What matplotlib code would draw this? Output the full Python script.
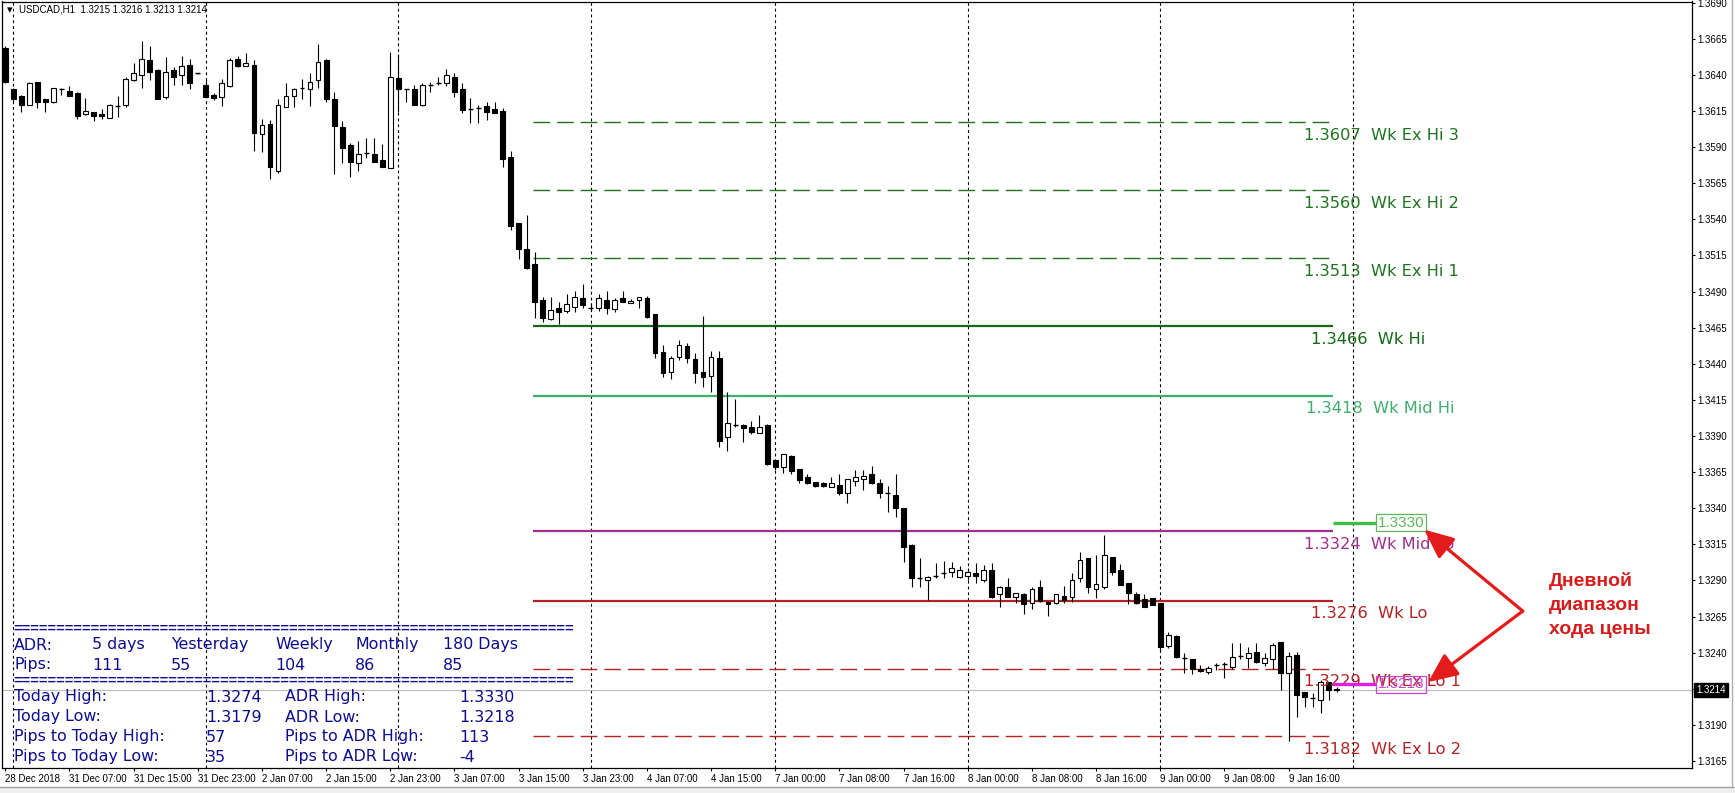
import numpy as np
import matplotlib.pyplot as plt
from matplotlib.patches import Rectangle

plt.rcParams['font.family'] = ['Liberation Sans', 'DejaVu Sans']

# ---- H1 candles, bar 0 = 28 Dec 23:00, last bar = 9 Jan 22:00 ----
OPEN = [
    1.36583, 1.36301, 1.36253, 1.36193, 1.36350, 1.36232, 1.36209, 1.36302, 1.36288, 1.36274,
    1.36126, 1.36140, 1.36128, 1.36103, 1.36180, 1.36188, 1.36361, 1.36396, 1.36502, 1.36433,
    1.36244, 1.36433, 1.36396, 1.36468, 1.36411, 1.36329, 1.36258, 1.36248, 1.36324, 1.36507,
    1.36458, 1.36468, 1.35988, 1.36057, 1.35736, 1.36179, 1.36251, 1.36305, 1.36299, 1.36361,
    1.36502, 1.36230, 1.36037, 1.35915, 1.35788, 1.35855, 1.35850, 1.35811, 1.35758, 1.36376,
    1.36303, 1.36300, 1.36189, 1.36326, 1.36344, 1.36341, 1.36387, 1.36300, 1.36167, 1.36168,
    1.36184, 1.36161, 1.36150, 1.35829, 1.35372, 1.35195, 1.35091, 1.34842, 1.34708, 1.34786,
    1.34768, 1.34796, 1.34853, 1.34790, 1.34789, 1.34842, 1.34782, 1.34853, 1.34819, 1.34839,
    1.34853, 1.34743, 1.34480, 1.34346, 1.34449, 1.34523, 1.34431, 1.34341, 1.34318, 1.34438,
    1.33891, 1.33976, 1.33977, 1.33960, 1.33919, 1.33977, 1.33734, 1.33688, 1.33762, 1.33670,
    1.33619, 1.33580, 1.33577, 1.33550, 1.33561, 1.33508, 1.33591, 1.33599, 1.33635, 1.33573,
    1.33503, 1.33492, 1.33399, 1.33145, 1.32919, 1.32903, 1.32930, 1.32948, 1.32961, 1.32926,
    1.32931, 1.32954, 1.32903, 1.32972, 1.32806, 1.32852, 1.32783, 1.32806, 1.32742, 1.32852,
    1.32751, 1.32742, 1.32792, 1.32783, 1.32915, 1.33053, 1.32838, 1.32857, 1.33060, 1.32972,
    1.32880, 1.32804, 1.32769, 1.32776, 1.32742, 1.32449, 1.32518, 1.32361, 1.32354, 1.32285,
    1.32268, 1.32314, 1.32320, 1.32303, 1.32378, 1.32361, 1.32407, 1.32331, 1.32354, 1.32472,
    1.32257, 1.32384, 1.32125, 1.32084, 1.32072, 1.32195, 1.32150,
]
HIGH = [
    1.36600, 1.36310, 1.36260, 1.36352, 1.36352, 1.36235, 1.36310, 1.36306, 1.36322, 1.36280,
    1.36237, 1.36142, 1.36161, 1.36200, 1.36253, 1.36387, 1.36479, 1.36634, 1.36599, 1.36440,
    1.36521, 1.36456, 1.36530, 1.36507, 1.36415, 1.36364, 1.36276, 1.36368, 1.36518, 1.36530,
    1.36553, 1.36502, 1.36094, 1.36087, 1.36232, 1.36345, 1.36306, 1.36368, 1.36414, 1.36613,
    1.36510, 1.36284, 1.36081, 1.35926, 1.35944, 1.35961, 1.35961, 1.35922, 1.36555, 1.36545,
    1.36304, 1.36330, 1.36341, 1.36348, 1.36387, 1.36440, 1.36410, 1.36341, 1.36237, 1.36191,
    1.36210, 1.36210, 1.36168, 1.35873, 1.35372, 1.35430, 1.35176, 1.34865, 1.34865, 1.34830,
    1.34885, 1.34906, 1.34953, 1.34819, 1.34885, 1.34906, 1.34853, 1.34902, 1.34846, 1.34860,
    1.34870, 1.34745, 1.34530, 1.34454, 1.34565, 1.34546, 1.34472, 1.34730, 1.34491, 1.34491,
    1.34203, 1.34156, 1.33980, 1.34004, 1.34046, 1.33980, 1.33736, 1.33775, 1.33765, 1.33672,
    1.33637, 1.33582, 1.33584, 1.33614, 1.33637, 1.33605, 1.33665, 1.33665, 1.33693, 1.33600,
    1.33554, 1.33637, 1.33400, 1.33150, 1.33053, 1.32928, 1.33019, 1.33035, 1.33030, 1.33000,
    1.32984, 1.33019, 1.33010, 1.33019, 1.32860, 1.32915, 1.32811, 1.32815, 1.32852, 1.32903,
    1.32753, 1.32806, 1.32862, 1.32949, 1.33099, 1.33055, 1.33076, 1.33214, 1.33062, 1.33014,
    1.32880, 1.32822, 1.32806, 1.32781, 1.32745, 1.32541, 1.32520, 1.32400, 1.32356, 1.32315,
    1.32308, 1.32326, 1.32338, 1.32465, 1.32469, 1.32442, 1.32469, 1.32395, 1.32469, 1.32475,
    1.32407, 1.32402, 1.32130, 1.32119, 1.32211, 1.32200, 1.32160,
]
LOW = [
    1.36340, 1.36220, 1.36145, 1.36190, 1.36168, 1.36145, 1.36205, 1.36260, 1.36250, 1.36092,
    1.36120, 1.36080, 1.36094, 1.36100, 1.36110, 1.36180, 1.36360, 1.36306, 1.36364, 1.36230,
    1.36232, 1.36329, 1.36329, 1.36299, 1.36408, 1.36244, 1.36225, 1.36186, 1.36318, 1.36451,
    1.36458, 1.35875, 1.35868, 1.35676, 1.35718, 1.36179, 1.36175, 1.36232, 1.36184, 1.36306,
    1.36209, 1.35714, 1.35788, 1.35695, 1.35737, 1.35822, 1.35799, 1.35765, 1.35753, 1.36145,
    1.36214, 1.36191, 1.36185, 1.36284, 1.36330, 1.36325, 1.36249, 1.36138, 1.36069, 1.36069,
    1.36088, 1.36138, 1.35765, 1.35326, 1.35123, 1.35055, 1.34719, 1.34692, 1.34703, 1.34676,
    1.34749, 1.34761, 1.34789, 1.34770, 1.34768, 1.34747, 1.34761, 1.34830, 1.34819, 1.34789,
    1.34719, 1.34438, 1.34311, 1.34295, 1.34426, 1.34403, 1.34269, 1.34242, 1.34207, 1.33822,
    1.33799, 1.33965, 1.33861, 1.33912, 1.33919, 1.33700, 1.33665, 1.33647, 1.33637, 1.33573,
    1.33570, 1.33550, 1.33545, 1.33550, 1.33488, 1.33434, 1.33554, 1.33527, 1.33570, 1.33469,
    1.33377, 1.33342, 1.33030, 1.32852, 1.32852, 1.32765, 1.32915, 1.32915, 1.32926, 1.32915,
    1.32903, 1.32880, 1.32890, 1.32780, 1.32719, 1.32788, 1.32746, 1.32668, 1.32700, 1.32753,
    1.32656, 1.32740, 1.32742, 1.32749, 1.32892, 1.32811, 1.32781, 1.32838, 1.32938, 1.32868,
    1.32737, 1.32737, 1.32714, 1.32730, 1.32407, 1.32430, 1.32361, 1.32262, 1.32252, 1.32266,
    1.32252, 1.32280, 1.32223, 1.32285, 1.32354, 1.32292, 1.32331, 1.32308, 1.32285, 1.32142,
    1.31790, 1.31957, 1.32026, 1.32026, 1.31980, 1.32072, 1.32130,
]
CLOSE = [
    1.36352, 1.36232, 1.36188, 1.36345, 1.36214, 1.36214, 1.36306, 1.36300, 1.36255, 1.36115,
    1.36151, 1.36117, 1.36117, 1.36191, 1.36183, 1.36368, 1.36410, 1.36507, 1.36417, 1.36230,
    1.36417, 1.36387, 1.36461, 1.36345, 1.36413, 1.36248, 1.36237, 1.36341, 1.36500, 1.36463,
    1.36479, 1.35999, 1.36050, 1.35759, 1.36191, 1.36255, 1.36301, 1.36307, 1.36350, 1.36486,
    1.36232, 1.36047, 1.35896, 1.35799, 1.35850, 1.35858, 1.35799, 1.35765, 1.36387, 1.36300,
    1.36301, 1.36191, 1.36330, 1.36328, 1.36346, 1.36399, 1.36284, 1.36157, 1.36165, 1.36170,
    1.36145, 1.36138, 1.35820, 1.35356, 1.35195, 1.35061, 1.34830, 1.34719, 1.34773, 1.34761,
    1.34812, 1.34865, 1.34807, 1.34788, 1.34853, 1.34789, 1.34842, 1.34830, 1.34832, 1.34860,
    1.34726, 1.34473, 1.34339, 1.34438, 1.34530, 1.34438, 1.34334, 1.34311, 1.34449, 1.33868,
    1.33988, 1.33978, 1.33954, 1.33930, 1.33960, 1.33706, 1.33684, 1.33773, 1.33660, 1.33596,
    1.33573, 1.33557, 1.33557, 1.33573, 1.33504, 1.33599, 1.33614, 1.33623, 1.33573, 1.33508,
    1.33505, 1.33400, 1.33129, 1.32915, 1.32921, 1.32926, 1.32932, 1.32950, 1.32984, 1.32972,
    1.32961, 1.32931, 1.32972, 1.32788, 1.32857, 1.32788, 1.32811, 1.32735, 1.32841, 1.32760,
    1.32737, 1.32804, 1.32765, 1.32903, 1.33041, 1.32852, 1.32873, 1.33076, 1.32961, 1.32868,
    1.32811, 1.32746, 1.32719, 1.32730, 1.32442, 1.32522, 1.32372, 1.32363, 1.32285, 1.32271,
    1.32292, 1.32316, 1.32322, 1.32372, 1.32380, 1.32400, 1.32338, 1.32361, 1.32453, 1.32257,
    1.32377, 1.32107, 1.32091, 1.32086, 1.32199, 1.32142, 1.32140,
]

TIME_LABELS = [
    '28 Dec 2018', '31 Dec 07:00', '31 Dec 15:00', '31 Dec 23:00', '2 Jan 07:00',
    '2 Jan 15:00', '2 Jan 23:00', '3 Jan 07:00', '3 Jan 15:00', '3 Jan 23:00',
    '4 Jan 07:00', '4 Jan 15:00', '7 Jan 00:00', '7 Jan 08:00', '7 Jan 16:00',
    '8 Jan 00:00', '8 Jan 08:00', '8 Jan 16:00', '9 Jan 00:00', '9 Jan 08:00', '9 Jan 16:00',
]
DAY_STARTS = [1, 25, 49, 73, 96, 120, 144, 168]

LEVEL_PRICES = [1.3607, 1.3560, 1.3513, 1.3466, 1.3418, 1.3324, 1.3276, 1.3229, 1.3182]
LEVEL_NAMES = ['Wk Ex Hi 3', 'Wk Ex Hi 2', 'Wk Ex Hi 1', 'Wk Hi', 'Wk Mid Hi',
               'Wk Mid Lo', 'Wk Lo', 'Wk Ex Lo 1', 'Wk Ex Lo 2']
LEVEL_COLORS = ['#1f741f', '#1f741f', '#1f741f', '#146914', '#3fae6e',
                '#a0308f', '#b42323', '#b42323', '#b42323']
LEVEL_DASHED = [True, True, True, False, False, False, False, True, True]

ADR_HEAD = ['ADR:', '5 days', 'Yesterday', 'Weekly', 'Monthly', '180 Days']
ADR_PIPS = ['Pips:', '111', '55', '104', '86', '85']
INFO_ROWS = [
    ['Today High:', '1.3274', 'ADR High:', '1.3330'],
    ['Today Low:', '1.3179', 'ADR Low:', '1.3218'],
    ['Pips to Today High:', '57', 'Pips to ADR High:', '113'],
    ['Pips to Today Low:', '35', 'Pips to ADR Low:', '-4'],
]
ADR_HIGH = 1.3330
ADR_LOW = 1.3218
BID = 1.3214
TITLE = 'USDCAD,H1  1.3215 1.3216 1.3213 1.3214'
NOTE = ['Дневной', 'диапазон', 'хода цены']

W, H = 1735, 793
fig = plt.figure(figsize=(W / 100, H / 100), dpi=100)
fig.patch.set_facecolor('white')


def fx(x):
    return x / W


def fy(y):
    return 1 - y / H


# bar i sits at 5.3 + 8.02*i px, price p at 38.7 + (1.3665-p)*14446 px
ax = fig.add_axes([fx(2), fy(768), fx(1692) - fx(2), fy(1.5) - fy(768)])
ax.set_xlim(-0.41, 210.3)
ax.set_ylim(1.316016, 1.369075)
ax.set_facecolor('white')

# candles
o, h, l, c = (np.array(a) for a in (OPEN, HIGH, LOW, CLOSE))
xs = np.arange(len(o))
ax.vlines(xs, l, h, color='black', lw=0.8, zorder=3)
bw = 0.6
for i in xs:
    lo, hi = min(o[i], c[i]), max(o[i], c[i])
    if hi - lo < 0.00006:
        ax.hlines((lo + hi) / 2, i - bw / 2, i + bw / 2, color='black', lw=1.0, zorder=4)
    else:
        face = 'white' if c[i] > o[i] else 'black'
        ax.add_patch(Rectangle((i - bw / 2, lo), bw, hi - lo, facecolor=face,
                               edgecolor='black', lw=0.8, zorder=4))

# period separators and bid line
for d in DAY_STARTS:
    ax.axvline(d, color='black', lw=0.8, ls=(0, (2.6, 2.6)), zorder=1)
ax.axhline(BID, color='#c0c0c0', lw=0.9, zorder=1)

# weekly levels
LEVEL_START, LEVEL_END = 65.8, 165.6
label_shift = [0, 0, 0, 0.95, 0.3, 0, 0.95, 0, 0]
for p, name, col, dashed, sh in zip(LEVEL_PRICES, LEVEL_NAMES, LEVEL_COLORS,
                                    LEVEL_DASHED, label_shift):
    if dashed:
        ax.hlines(p, LEVEL_START, LEVEL_END, colors=col, lw=1.0,
                  linestyles=[(0, (12, 5))], zorder=2)
    else:
        ax.hlines(p, LEVEL_START, LEVEL_END, colors=col, lw=1.6, zorder=2)
    ax.text(161.9 + sh, p - 0.0009, f'{p:.4f}  {name}', color=col, fontsize=11.7,
            family='DejaVu Sans', va='center', ha='left', zorder=6)

# ADR high / low markers
for p, col, tcol in [(ADR_HIGH, '#3fbf3f', '#5cb85c'), (ADR_LOW, '#e020e0', '#cc44cc')]:
    ax.hlines(p, 165.5, 170.9, colors=col, lw=2.4, zorder=6)
    ax.text(171.15, p, f'{p:.4f}', color=tcol, fontsize=11, family='Liberation Sans',
            va='center', ha='left', zorder=7,
            bbox=dict(boxstyle='square,pad=0.12', fc='none', ec=tcol, lw=0.9))

# red arrows and note
vx, vy = 189.2, 1.32688
for tx, ty in [(176.9, 1.33252), (177.4, 1.32196)]:
    ax.annotate('', xy=(tx, ty), xytext=(vx, vy), annotation_clip=False, zorder=8,
                arrowprops=dict(arrowstyle='-|>,head_length=0.9,head_width=0.4',
                                color='#e41b1b', lw=2.3, shrinkA=0, shrinkB=0,
                                mutation_scale=20))
for k, line in enumerate(NOTE):
    ax.text(192.5, 1.32896 - k * 0.00168, line, color='#d71a1a', fontsize=14,
            fontweight='bold', family='Liberation Sans', va='center', ha='left', zorder=8)

# axes styling
ax.yaxis.tick_right()
yt = [round(1.3165 + 0.0025 * k, 4) for k in range(22)]
ax.set_yticks(yt)
ax.set_yticklabels([f'{v:.4f}' for v in yt])
ax.set_xticks(np.arange(0, 8 * len(TIME_LABELS), 8))
ax.set_xticklabels(TIME_LABELS, ha='left')
ax.tick_params(axis='both', labelsize=7, length=2.5, width=0.8, color='black',
               direction='out', pad=1.5)
for s in ax.spines.values():
    s.set_color('black')
    s.set_linewidth(0.9)

# current price tag
ax.text(1.0025, BID, '1.3214', transform=ax.get_yaxis_transform(), color='white',
        fontsize=7, family='Liberation Sans', va='center', ha='left', clip_on=False,
        bbox=dict(boxstyle='square,pad=0.22', fc='black', ec='black'), zorder=9)

# chart title
fig.text(fx(7), fy(10), '▾', fontsize=8, family='DejaVu Sans', va='center', ha='left')
fig.text(fx(19), fy(10), TITLE, fontsize=7, va='center', ha='left')

# info table
blue = '#0c0c8e'
eq = '=' * 65
for yy in (629, 681):
    fig.text(fx(13), fy(yy), eq, color=blue, fontsize=10.5, fontweight='bold',
             va='center', ha='left', zorder=9)
for xs_, a, b in zip([14, 92, 171, 275, 355, 443], ADR_HEAD, ADR_PIPS):
    fig.text(fx(xs_), fy(645), a, color=blue, fontsize=11.4, family='DejaVu Sans',
             va='center', ha='left', zorder=9)
    fig.text(fx(xs_), fy(665), b, color=blue, fontsize=11.4, family='DejaVu Sans',
             va='center', ha='left', zorder=9)
for r, row in enumerate(INFO_ROWS):
    for xs_, t in zip([14, 206, 285, 459], row):
        fig.text(fx(xs_), fy(697 + 20 * r), t, color=blue, fontsize=11.4,
                 family='DejaVu Sans', va='center', ha='left', zorder=9)

# window frame bits
fig.add_artist(plt.Line2D([0, 1], [fy(787), fy(787)], color='#a0a0a0', lw=1))
fig.add_artist(Rectangle((0, 0), 1, fy(787), transform=fig.transFigure,
                         fc='#f0f0f0', ec='none'))
fig.add_artist(plt.Line2D([fx(1732), fx(1732)], [fy(787), 1], color='#b0b0b0', lw=1))

fig.savefig('out.png', dpi=100)
